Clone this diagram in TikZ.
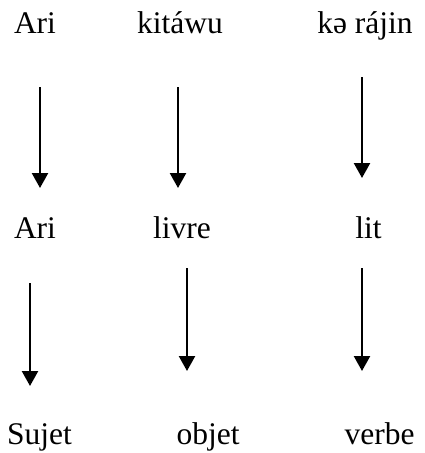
\documentclass[tikz,border=0pt]{standalone}
\usepackage{fontspec}
\setmainfont{Liberation Serif}
\usetikzlibrary{arrows.meta}
\begin{document}
\begin{tikzpicture}[x=1pt,y=-1pt]
    % Styles
    \tikzset{word/.style={anchor=base,inner sep=0pt,font=\fontsize{31.5}{36}\selectfont},
             down arrow/.style={line width=2.4pt,-{Triangle[width=16pt,length=15pt]}}}
    \useasboundingbox (0,0) rectangle (424,453);

    % --- Row 1: source words ---
    \node[word] (ari_src) at (35, 33) {Ari};
    \node[word] (kitawu) at (180, 33) {kitáwu};
    \node[word] (kerajin) at (365, 33) {kə rájin};

    % --- Row 2: French glosses ---
    \node[word] (ari_fr) at (35, 238) {Ari};
    \node[word] (livre) at (182, 238) {livre};
    \node[word] (lit) at (368.5, 238) {lit};

    % --- Row 3: functions ---
    \node[word] (sujet) at (39.5, 444) {Sujet};
    \node[word] (objet) at (208, 444) {objet};
    \node[word] (verbe) at (379.5, 444) {verbe};

    % --- Arrow end points ---
    \coordinate (a1_top) at (40, 87);   \coordinate (a1_bot) at (40, 188);
    \coordinate (a2_top) at (178, 87);  \coordinate (a2_bot) at (178, 188);
    \coordinate (a3_top) at (362, 77);  \coordinate (a3_bot) at (362, 178);
    \coordinate (b1_top) at (30, 283);  \coordinate (b1_bot) at (30, 386);
    \coordinate (b2_top) at (187, 268); \coordinate (b2_bot) at (187, 371);
    \coordinate (b3_top) at (362, 268); \coordinate (b3_bot) at (362, 371);

    % --- Arrows ---
    \draw[down arrow] (a1_top) -- (a1_bot);
    \draw[down arrow] (a2_top) -- (a2_bot);
    \draw[down arrow] (a3_top) -- (a3_bot);
    \draw[down arrow] (b1_top) -- (b1_bot);
    \draw[down arrow] (b2_top) -- (b2_bot);
    \draw[down arrow] (b3_top) -- (b3_bot);
\end{tikzpicture}
\end{document}
